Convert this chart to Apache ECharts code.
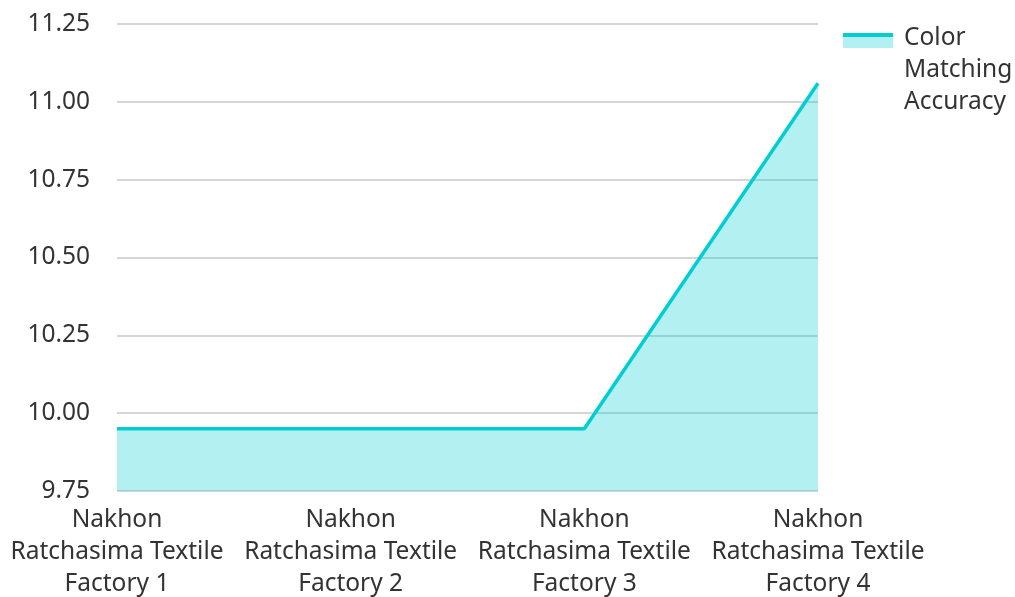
<!DOCTYPE html>
<html>
<head>
<meta charset="utf-8">
<script src="https://cdn.jsdelivr.net/npm/echarts@6/dist/echarts.min.js"></script>
<style>html,body{margin:0;padding:0;background:#fff;}#c{width:1015px;height:597px;}</style>
</head>
<body>
<div id="c"></div>
<script>
const categories = ["Nakhon Ratchasima Textile Factory 1", "Nakhon Ratchasima Textile Factory 2", "Nakhon Ratchasima Textile Factory 3", "Nakhon Ratchasima Textile Factory 4"];
const seriesName = "Color Matching Accuracy";
const values = [9.95, 9.95, 9.95, 11.06];
const yTicks = {min: 9.75, max: 11.25, interval: 0.25};

const chart = echarts.init(document.getElementById('c'));
const font = "'Noto Sans', 'Open Sans', sans-serif";
const lineColor = '#00CED1';
const areaColor = 'rgba(0,206,209,0.3)';
chart.setOption({
  animation: false,
  grid: {left: 117, right: 197, top: 24, bottom: 106, outerBoundsMode: 'none', containLabel: false},
  legend: {
    left: 843, top: -15, orient: 'vertical',
    itemWidth: 50, itemHeight: 14,
    itemStyle: {opacity: 0}, lineStyle: {opacity: 0},
    formatter: name => name.split(' ').join('\n'),
    textStyle: {fontFamily: font, fontSize: 24.5, color: '#333', lineHeight: 32, padding: [64, 0, 0, 0]},
    data: [seriesName]
  },
  graphic: [
    {type: 'rect', left: 843, top: 34, shape: {width: 50, height: 14}, style: {fill: areaColor}, silent: true},
    {type: 'rect', left: 843, top: 33, shape: {width: 50, height: 4}, style: {fill: lineColor}, silent: true}
  ],
  xAxis: {
    type: 'category', data: categories, boundaryGap: false,
    axisLine: {show: false}, axisTick: {show: false},
    axisLabel: {
      fontFamily: font, fontSize: 24.5, color: '#333', lineHeight: 32, margin: 13, interval: 0,
      formatter: v => { const w = v.split(' '); return w[0] + '\n' + w[1] + ' ' + w[2] + '\n' + w.slice(3).join(' '); }
    }
  },
  yAxis: {
    type: 'value', min: yTicks.min, max: yTicks.max, interval: yTicks.interval,
    axisLine: {show: false}, axisTick: {show: false},
    axisLabel: {fontFamily: font, fontSize: 24.5, color: '#333', margin: 27, formatter: v => v.toFixed(2)},
    splitLine: {lineStyle: {color: '#c8c8c8', width: 1.5}}
  },
  series: [{
    name: seriesName, type: 'line', data: values, symbol: 'none',
    lineStyle: {color: lineColor, width: 3.5},
    itemStyle: {color: lineColor},
    areaStyle: {color: lineColor, opacity: 0.3}
  }]
});
</script>
</body>
</html>
